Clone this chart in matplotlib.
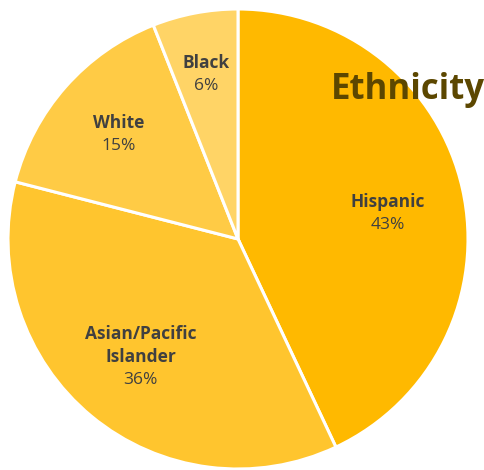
import matplotlib.pyplot as plt
import numpy as np

# ethnicity breakdown, clockwise from 12 o'clock
groups = ["Hispanic", "Asian/Pacific\nIslander", "White", "Black"]
shares = [43, 36, 15, 6]
colors = ["#FFB900", "#FFC52E", "#FFCB45", "#FFD466"]
label_dist = [0.66, 0.665, 0.69, 0.73]
label_nudge = [-3, 0, 0, 0]  # extra angular shift in degrees

fig = plt.figure(figsize=(4.84, 4.70), dpi=100)
# pie centred at (238, 239) px with a 230 px radius
ax = fig.add_axes([(238 - 230) / 484, (470 - 239 - 230) / 470, 460 / 484, 460 / 470])
wedges, _ = ax.pie(shares, colors=colors, startangle=90, counterclock=False,
                   radius=1, wedgeprops=dict(edgecolor="white", linewidth=2.2))
ax.set_xlim(-1, 1)
ax.set_ylim(-1, 1)
ax.set_aspect("equal")
ax.axis("off")

step = 16.5  # line spacing in points
for w, name, pct, d, nudge in zip(wedges, groups, shares, label_dist, label_nudge):
    ang = np.deg2rad((w.theta1 + w.theta2) / 2 + nudge)
    x, y = d * np.cos(ang), d * np.sin(ang)
    lines = name.split("\n")
    n = len(lines) + 1
    for i, line in enumerate(lines + [f"{pct}%"]):
        bold = i < len(lines)
        ax.annotate(line, (x, y), xytext=(0, ((n - 1) / 2 - i) * step),
                    textcoords="offset points", ha="center", va="center",
                    fontsize=12.5, fontweight="bold" if bold else "normal",
                    color="#404040", family="Open Sans")

fig.text(408 / 484, 1 - 90 / 470, "Ethnicity", ha="center", va="center",
         fontsize=25, fontweight="bold", color="#5C4700", family="Open Sans")

fig.savefig("out.png", dpi=100)
